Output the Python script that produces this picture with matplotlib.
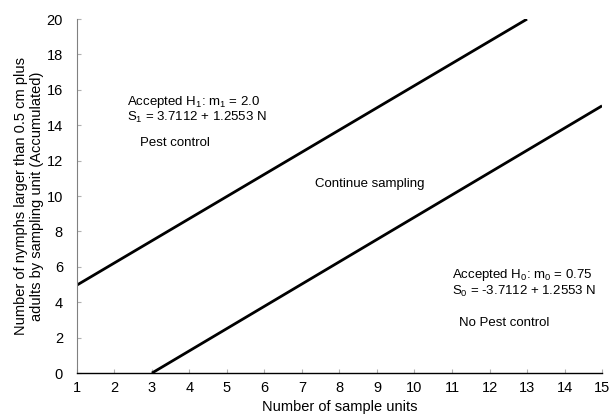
import matplotlib
matplotlib.use("Agg")
import matplotlib.pyplot as plt

plt.rcParams['font.family'] = ['Liberation Sans', 'DejaVu Sans']
plt.rcParams['mathtext.fontset'] = 'custom'
plt.rcParams['mathtext.rm'] = 'Liberation Sans'

# decision lines (S1 upper, S0 lower)
upper_x = [1, 13]
upper_y = [4.97, 20.0]
lower_x = [3, 15]
lower_y = [0.0, 15.1]

x_ticks = list(range(1, 16))
y_ticks = list(range(0, 21, 2))

fig = plt.figure(figsize=(6.1, 4.15), dpi=100)
ax = fig.add_axes([0.126, 0.101, 0.861, 0.853])

ax.plot(upper_x, upper_y, color='black', lw=2, solid_capstyle='butt')
ax.plot(lower_x, lower_y, color='black', lw=2, solid_capstyle='butt')

ax.set_xlim(1, 15)
ax.set_ylim(0, 20)
ax.set_xticks(x_ticks)
ax.set_yticks(y_ticks)
ax.tick_params(direction='in', length=3, color='#b0b0b0', labelsize=10.5)
ax.tick_params(axis='x', pad=6)
ax.tick_params(axis='y', pad=10)
for s in ['top', 'right']:
    ax.spines[s].set_visible(False)
ax.spines['bottom'].set_linewidth(1)
ax.spines['left'].set_color('#808080')

ax.set_xlabel('Number of sample units', fontsize=10.5, labelpad=3)
ax.set_ylabel('Number of nymphs larger than 0.5 cm plus\nadults by sampling unit (Accumulated)',
              fontsize=10.5, labelpad=2)

fs = 9.5
ax.text(2.33, 14.88,
        'Accepted H$_\\mathregular{1}$: m$_\\mathregular{1}$ = 2.0\n'
        'S$_\\mathregular{1}$ = 3.7112 + 1.2553 N',
        fontsize=fs, va='center', linespacing=1.0)
ax.text(2.68, 13.0, 'Pest control', fontsize=fs, va='center')
ax.text(8.81, 10.68, 'Continue sampling', fontsize=fs, va='center', ha='center')
ax.text(11.0, 5.09,
        'Accepted H$_\\mathregular{0}$: m$_\\mathregular{0}$ = 0.75\n'
        'S$_\\mathregular{0}$ = -3.7112 + 1.2553 N',
        fontsize=fs, va='center', linespacing=1.0)
ax.text(11.19, 2.82, 'No Pest control', fontsize=fs, va='center')

fig.savefig('out.png', dpi=100)
